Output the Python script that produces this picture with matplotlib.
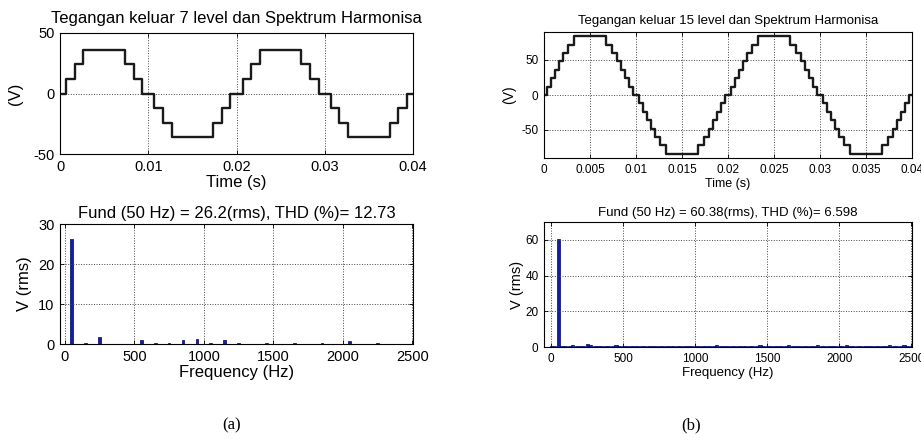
import matplotlib

matplotlib.use("Agg")

import matplotlib.pyplot as plt
import numpy as np

# 7-level staircase: switching instants (ms) and level held after each switch
edges_7 = [0.7, 1.65, 2.65, 7.35, 8.35, 9.3, 10.7, 11.65, 12.65, 17.35, 18.35, 19.3,
           20.7, 21.65, 22.65, 27.35, 28.35, 29.3, 30.7, 31.65, 32.65, 37.35, 38.35, 39.3]
levels_7 = [12, 24, 36, 24, 12, 0, -12, -24, -36, -24, -12, 0,
            12, 24, 36, 24, 12, 0, -12, -24, -36, -24, -12, 0]

# 15-level staircase
edges_15 = [0.3, 0.75, 1.2, 1.65, 2.1, 2.6, 3.3, 6.7, 7.4, 7.9, 8.35, 8.8, 9.25, 9.7,
            10.3, 10.75, 11.2, 11.65, 12.1, 12.6, 13.3, 16.7, 17.4, 17.9, 18.35, 18.8, 19.25, 19.7,
            20.3, 20.75, 21.2, 21.65, 22.1, 22.6, 23.3, 26.7, 27.4, 27.9, 28.35, 28.8, 29.25, 29.7,
            30.3, 30.75, 31.2, 31.65, 32.1, 32.6, 33.3, 36.7, 37.4, 37.9, 38.35, 38.8, 39.25, 39.7]
levels_15 = [12, 24, 36, 48, 60, 72, 84, 72, 60, 48, 36, 24, 12, 0,
             -12, -24, -36, -48, -60, -72, -84, -72, -60, -48, -36, -24, -12, 0,
             12, 24, 36, 48, 60, 72, 84, 72, 60, 48, 36, 24, 12, 0,
             -12, -24, -36, -48, -60, -72, -84, -72, -60, -48, -36, -24, -12, 0]

# spectrum of the 7-level output (Hz, V rms)
freq_7 = [50, 150, 250, 550, 650, 750, 850, 950, 1050, 1150, 1250, 1450, 1650, 1850, 2050, 2250]
mag_7 = [26.2, 0.3, 1.7, 1.0, 0.35, 0.35, 1.1, 1.25, 0.35, 0.9, 0.3, 0.35, 0.35, 0.35, 0.65, 0.3]

# spectrum of the 15-level output, 25 Hz bins from 0 to 2500 Hz
freq_15 = list(range(0, 2501, 25))
mag_15 = [0.3, 0.6, 60.38, 0.7, 0.6, 0.6, 1.1, 0.8, 0.6, 0.6,
          1.9, 1.0, 0.7, 0.6, 0.7, 0.6, 0.6, 0.7, 0.9, 0.7,
          0.6, 0.6, 0.6, 0.6, 0.6, 0.6, 0.6, 0.6, 0.6, 0.6,
          0.6, 0.6, 0.6, 0.6, 0.6, 0.6, 0.6, 0.6, 0.6, 0.6,
          0.6, 0.7, 0.6, 0.6, 0.6, 0.6, 1.0, 0.7, 0.6, 0.6,
          0.6, 0.6, 0.6, 0.6, 0.6, 0.6, 0.6, 0.6, 0.9, 0.6,
          0.6, 0.6, 0.6, 0.6, 0.6, 0.6, 0.9, 0.7, 0.6, 0.6,
          0.8, 0.7, 0.6, 0.6, 1.0, 0.7, 0.6, 0.6, 0.6, 0.6,
          0.6, 0.6, 1.0, 0.7, 0.6, 0.6, 0.6, 0.6, 0.6, 0.6,
          0.6, 0.6, 0.6, 0.6, 0.9, 0.6, 0.6, 0.6, 0.9, 0.6,
          0.6]

BAR_COLOR = "#1020a0"
W, H = 921, 446


def px_axes(fig, left, top, right, bottom):
    return fig.add_axes([left / W, 1 - bottom / H, (right - left) / W, (bottom - top) / H])


def matlab_style(ax, size):
    ax.tick_params(direction="in", top=True, right=True, length=3, width=0.6, labelsize=size, pad=4)
    ax.grid(True, linestyle=":", color="#444444", linewidth=0.7)
    for spine in ax.spines.values():
        spine.set_linewidth(0.8)


def draw_wave(ax, edges, levels):
    t = np.array([0.0] + edges + [40.0]) / 1000.0
    v = [0] + levels + [levels[-1]]
    ax.plot(t, v, drawstyle="steps-post", color="#1a1a1a", linewidth=1.7)


plt.rcParams["font.family"] = ["Liberation Sans", "DejaVu Sans"]
plt.rcParams["axes.unicode_minus"] = False
fig = plt.figure(figsize=(W / 100, H / 100), dpi=100)

# (a) top: 7-level waveform
ax = px_axes(fig, 60, 33, 413, 154)
draw_wave(ax, edges_7, levels_7)
ax.set_xlim(0, 0.04)
ax.set_ylim(-50, 50)
ax.set_xticks([0, 0.01, 0.02, 0.03, 0.04], labels=["0", "0.01", "0.02", "0.03", "0.04"])
ax.set_yticks([-50, 0, 50])
matlab_style(ax, 10.5)
ax.set_title("Tegangan keluar 7 level dan Spektrum Harmonisa", fontsize=12, pad=7)
ax.set_xlabel("Time (s)", fontsize=12, labelpad=1)
ax.set_ylabel("(V)", fontsize=12, labelpad=0)
ax.yaxis.set_label_coords(-0.105, 0.5)

# (a) bottom: spectrum
ax = px_axes(fig, 60, 224, 413, 344)
ax.bar(freq_7, mag_7, width=20, color=BAR_COLOR, edgecolor="#000070", linewidth=0.5)
ax.set_xlim(-35, 2505)
ax.set_ylim(0, 30)
ax.set_xticks([0, 500, 1000, 1500, 2000, 2500])
ax.set_yticks([0, 10, 20, 30])
matlab_style(ax, 10.5)
ax.set_title("Fund (50 Hz) = 26.2(rms), THD (%)= 12.73", fontsize=12, pad=4)
ax.set_xlabel("Frequency (Hz)", fontsize=12, labelpad=1)
ax.set_ylabel("V (rms)", fontsize=12)
ax.yaxis.set_label_coords(-0.08, 0.5)

# (b) top: 15-level waveform
ax = px_axes(fig, 544, 32, 912, 158)
draw_wave(ax, edges_15, levels_15)
ax.set_xlim(0, 0.04)
ax.set_ylim(-90, 90)
ax.set_xticks(np.arange(0, 0.0401, 0.005),
              labels=["0", "0.005", "0.01", "0.015", "0.02", "0.025", "0.03", "0.035", "0.04"])
ax.set_yticks([-50, 0, 50])
matlab_style(ax, 8.5)
ax.set_title("Tegangan keluar 15 level dan Spektrum Harmonisa", fontsize=9.5, pad=6)
ax.set_xlabel("Time (s)", fontsize=9, labelpad=2)
ax.set_ylabel("(V)", fontsize=10)
ax.yaxis.set_label_coords(-0.075, 0.5)

# (b) bottom: spectrum
ax = px_axes(fig, 544, 222, 912, 347)
ax.bar(freq_15, mag_15, width=22, color=BAR_COLOR, edgecolor="#000070", linewidth=0.5)
ax.set_xlim(-50, 2505)
ax.set_ylim(0, 70)
ax.set_xticks([0, 500, 1000, 1500, 2000, 2500])
ax.set_yticks([0, 20, 40, 60])
matlab_style(ax, 8.5)
ax.set_title("Fund (50 Hz) = 60.38(rms), THD (%)= 6.598", fontsize=9.5, pad=4)
ax.set_xlabel("Frequency (Hz)", fontsize=9.5, labelpad=2)
ax.set_ylabel("V (rms)", fontsize=10.5)
ax.yaxis.set_label_coords(-0.055, 0.5)

fig.text(232 / W, 1 - 425 / H, "(a)", fontsize=12, family="Liberation Serif", ha="center", va="center")
fig.text(691 / W, 1 - 425 / H, "(b)", fontsize=12, family="Liberation Serif", ha="center", va="center")

fig.savefig("out.png", dpi=100)
